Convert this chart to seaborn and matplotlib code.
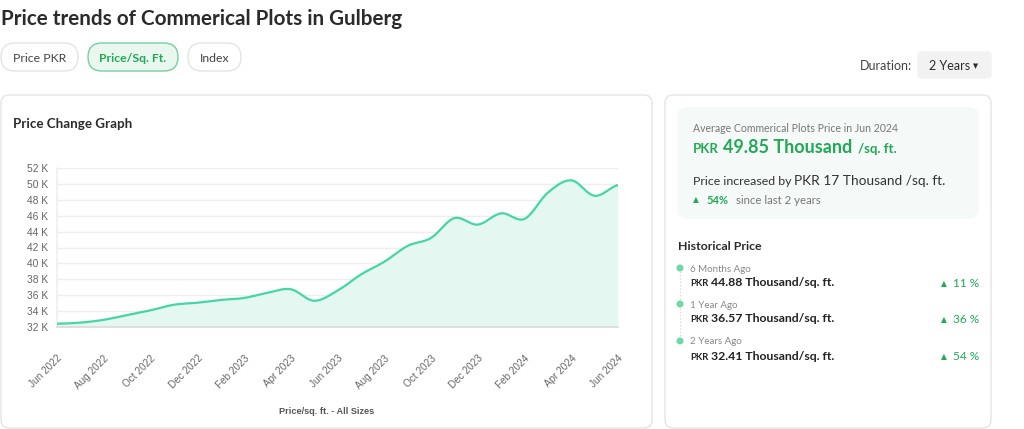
import numpy as np
import pandas as pd
import matplotlib
matplotlib.use("Agg")
import matplotlib.pyplot as plt
from matplotlib.patches import FancyBboxPatch, Circle
import seaborn as sns

# ---------------- data ----------------
months = ["Jun 2022", "Jul 2022", "Aug 2022", "Sep 2022", "Oct 2022", "Nov 2022",
          "Dec 2022", "Jan 2023", "Feb 2023", "Mar 2023", "Apr 2023", "May 2023",
          "Jun 2023", "Jul 2023", "Aug 2023", "Sep 2023", "Oct 2023", "Nov 2023",
          "Dec 2023", "Jan 2024", "Feb 2024", "Mar 2024", "Apr 2024", "May 2024",
          "Jun 2024"]
price_k = [32.41, 32.55, 32.90, 33.50, 34.10, 34.80, 35.05, 35.40, 35.65, 36.30,
           36.75, 35.30, 36.57, 38.60, 40.20, 42.20, 43.20, 45.70, 44.88, 46.30,
           45.60, 48.90, 50.45, 48.50, 49.85]
tick_labels = months[::2]
y_ticks = [32, 34, 36, 38, 40, 42, 44, 46, 48, 50, 52]

history_labels = ["6 Months Ago", "1 Year Ago", "2 Years Ago"]
history_values = ["44.88", "36.57", "32.41"]
history_change = ["11 %", "36 %", "54 %"]

GREEN = "#21a957"
MINT = "#45d6a3"
MINT_FILL = "#e4f8f1"
DARK = "#2b2b2b"
GRAY = "#777777"
BORDER = "#e4e4e4"
LATO = ["Lato", "DejaVu Sans"]
ARIAL = ["Liberation Sans", "DejaVu Sans"]

sns.set_theme(style="white")
plt.rcParams["font.family"] = LATO

W, H = 1024, 429
fig = plt.figure(figsize=(W / 100, H / 100), dpi=100)
fig.patch.set_facecolor("white")

# pixel-coordinate background axes
bg = fig.add_axes([0, 0, 1, 1])
bg.set_xlim(0, W)
bg.set_ylim(H, 0)
bg.axis("off")

renderer = fig.canvas.get_renderer()


def rbox(x0, y0, x1, y1, fc="white", ec=BORDER, lw=1.0, r=8):
    p = FancyBboxPatch((x0, y0), x1 - x0, y1 - y0,
                       boxstyle=f"round,pad=0,rounding_size={r}",
                       fc=fc, ec=ec, lw=lw, mutation_aspect=1)
    bg.add_patch(p)


def seq(x, y, parts):
    """place text parts one after another on a common baseline (pixel coords)"""
    for txt, size, color, weight, gap in parts:
        t = bg.text(x, y, txt, fontsize=size, color=color, fontweight=weight,
                    va="baseline", ha="left", family=LATO)
        bb = t.get_window_extent(renderer=renderer)
        x += bb.width + gap
    return x


# title
bg.text(1, 25, "Price trends of Commerical Plots in Gulberg", fontsize=14.9,
        fontweight="bold", color=DARK, va="baseline", family=LATO)

# pills
rbox(1, 43, 78, 71, ec=BORDER, r=14)
bg.text(39.5, 61.5, "Price PKR", fontsize=8.8, color="#444444", ha="center", va="baseline")
rbox(88, 43, 178, 71, fc="#e9f7ef", ec="#74d1a0", r=14)
bg.text(133, 61.5, "Price/Sq. Ft.", fontsize=8.8, color=GREEN, fontweight="bold",
        ha="center", va="baseline")
rbox(188, 43, 241, 71, ec=BORDER, r=14)
bg.text(214.5, 61.5, "Index", fontsize=8.8, color="#444444", ha="center", va="baseline")

# duration
bg.text(912, 69.5, "Duration:", fontsize=9, color="#444444", ha="right", va="baseline")
rbox(918, 52, 991, 78, fc="#f2f2f2", ec="#f2f2f2", r=4)
bg.text(950, 69.5, "2 Years", fontsize=9, color=DARK, ha="center", va="baseline")
bg.text(976, 68, "▼", fontsize=4.8, color=DARK, ha="center", va="baseline", family=["DejaVu Sans"])

# cards
rbox(1, 95, 652, 428, ec=BORDER, r=8)
rbox(665, 95, 991, 428, ec=BORDER, r=8)
rbox(678, 108, 978, 218, fc="#f5f9f7", ec="#f5f9f7", r=8)

bg.text(13, 128, "Price Change Graph", fontsize=9.6, fontweight="bold", color=DARK, va="baseline")

# right card summary
bg.text(693, 132, "Average Commerical Plots Price in Jun 2024", fontsize=7.6,
        color=GRAY, va="baseline")
seq(693, 153, [("PKR", 9.5, GREEN, "bold", 4),
               ("49.85 Thousand", 13, GREEN, "bold", 6),
               ("/sq. ft.", 9.5, GREEN, "bold", 0)])
seq(693, 185, [("Price increased by", 8.9, "#333333", "normal", 3),
               ("PKR 17 Thousand /sq. ft.", 9.9, "#333333", "normal", 0)])
bg.text(693, 202, "▲", fontsize=5.5, color=GREEN, va="baseline", family=["DejaVu Sans"])
seq(706, 203.5, [("54%", 8, GREEN, "bold", 8),
                 ("since last 2 years", 8.2, GRAY, "normal", 0)])

bg.text(678, 250, "Historical Price", fontsize=8.9, fontweight="bold", color=DARK, va="baseline")

dot_y = [268, 304, 341]
bg.plot([680, 680], [dot_y[0], dot_y[-1]], color="#cfcfcf", lw=0.8, ls=(0, (1, 2)))
for i, yy in enumerate(dot_y):
    bg.add_patch(Circle((680, yy), 2.8, color="#6fd8a8", zorder=3))
    bg.text(690, yy + 3.5, history_labels[i], fontsize=7, color="#888888", va="baseline")
    seq(690, yy + 18.5, [("PKR", 6.8, "#222222", "bold", 3),
                         (history_values[i] + " Thousand/sq. ft.", 8.8, "#222222", "bold", 0)])
    bg.text(979, yy + 19, history_change[i], fontsize=8.6, color=GREEN, ha="right",
            va="baseline")
    bg.text(947, yy + 18, "▲", fontsize=5.5, color=GREEN, ha="right", va="baseline",
            family=["DejaVu Sans"])

# ---------------- chart ----------------
L, R, T, B = 57, 618, 168, 327
ax = fig.add_axes([L / W, 1 - B / H, (R - L) / W, (B - T) / H])
ax.patch.set_alpha(0)

xi = np.arange(len(price_k), dtype=float)
yv = np.array(price_k)
# Catmull-Rom style smoothing of the monthly series for drawing
pad_y = np.concatenate([[yv[0]], yv, [yv[-1]]])
xs_list, ys_list = [], []
tt = np.linspace(0, 1, 20, endpoint=False)
for i in range(len(yv) - 1):
    p0, p1, p2, p3 = pad_y[i], pad_y[i + 1], pad_y[i + 2], pad_y[i + 3]
    m1 = (p2 - p0) / 2
    m2 = (p3 - p1) / 2
    h00 = 2 * tt**3 - 3 * tt**2 + 1
    h10 = tt**3 - 2 * tt**2 + tt
    h01 = -2 * tt**3 + 3 * tt**2
    h11 = tt**3 - tt**2
    xs_list.append(xi[i] + tt)
    ys_list.append(h00 * p1 + h10 * m1 + h01 * p2 + h11 * m2)
xs = np.concatenate(xs_list + [[xi[-1]]])
ys = np.concatenate(ys_list + [[yv[-1]]])
smooth = pd.DataFrame({"m": xs, "price": ys})

ax.fill_between(smooth["m"], smooth["price"], 32, color=MINT_FILL, lw=0, zorder=1)
sns.lineplot(data=smooth, x="m", y="price", ax=ax, color=MINT, lw=1.6, zorder=3)

ax.set_xlim(0, len(price_k) - 1)
ax.set_ylim(32, 52)
ax.set_yticks(y_ticks)
ax.set_yticklabels([f"{v} K" for v in y_ticks], fontsize=7.4, color="#666666", family=ARIAL)
ax.set_xticks(xi[::2])
ax.set_xticklabels(tick_labels, rotation=45, ha="right", rotation_mode="anchor",
                   fontsize=7.2, color="#666666", family=ARIAL)
ax.tick_params(axis="both", length=0)
ax.tick_params(axis="y", pad=6.5)
ax.tick_params(axis="x", pad=19)
ax.grid(axis="y", color="#eeeeee", lw=1)
ax.set_axisbelow(True)
for s in ["top", "right"]:
    ax.spines[s].set_visible(False)
ax.spines["left"].set_color("#f0f0f0")
ax.spines["bottom"].set_color("#dcdcdc")
ax.set_xlabel("")
ax.set_ylabel("")

bg.text(327, 414, "Price/sq. ft. - All Sizes", fontsize=6.6, fontweight="bold",
        color="#555555", ha="center", va="baseline", family=ARIAL)

fig.savefig("out.png", dpi=100, facecolor="white")
